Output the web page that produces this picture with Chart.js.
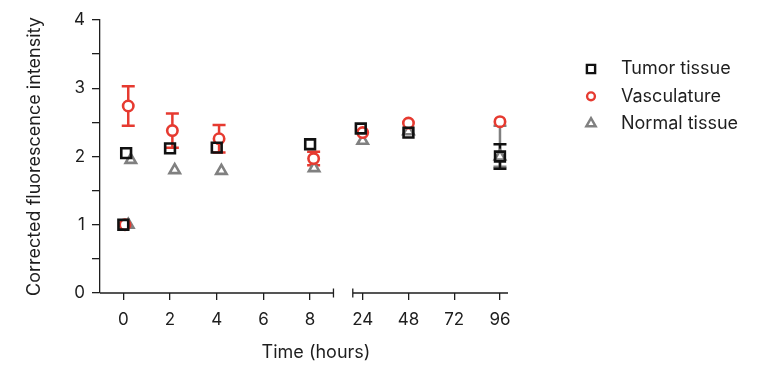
<!DOCTYPE html>
<html>
<head>
<meta charset="utf-8">
<script src="https://cdn.jsdelivr.net/npm/chart.js@4.4.1/dist/chart.umd.min.js"></script>
<style>
  body { margin: 0; background: #fff; }
</style>
</head>
<body>
<canvas id="chart" width="762" height="366"></canvas>
<script>
// tick positions on the time axis (hours)
const tickHours = [0, 2, 4, 6, 8, 24, 48, 72, 96];

const tumorHours  = [0, 0.12, 2, 4, 8, 23, 48, 96];
const tumorValues = [1.0, 2.05, 2.12, 2.13, 2.18, 2.41, 2.35, 2.0];
const tumorErr    = [0, 0, 0, 0, 0, 0, 0, 0.18];

const vascHours  = [0.07, 0.21, 2.1, 4.1, 8.15, 24, 48, 96];
const vascValues = [1.0, 2.74, 2.38, 2.26, 1.97, 2.35, 2.49, 2.51];
const vascErr    = [0, 0.29, 0.25, 0.2, 0.1, 0, 0, 0];

const normalHours   = [0.21, 0.32, 2.2, 4.2, 8.17, 24, 48, 96];
const normalValues  = [1.0, 1.95, 1.80, 1.79, 1.83, 2.23, 2.37, 2.0];
const normalErrUp   = [0, 0, 0, 0, 0, 0, 0, 0.45];
const normalErrDown = [0, 0, 0, 0, 0, 0, 0, 0.15];

const FONT = "Inter, 'Noto Sans', sans-serif";
const INK = "#1e1e1e";

// the axis is split: 0-8 h spaced by 2 h, then 24-96 h spaced by 24 h
function slotOf(h) {
    return h <= 12 ? h / 2 : 5.126 + (h - 24) / 24 * 0.98;
}

function points(hours, values) {
    return hours.map((h, i) => ({ x: slotOf(h), y: values[i] }));
}

// error bars, drawn under all markers
const errorBars = {
    id: "errorBars",
    beforeDatasetsDraw(chart) {
        const ctx = chart.ctx;
        const y = chart.scales.y;
        [2, 1, 0].forEach(di => {
            const ds = chart.data.datasets[di];
            const meta = chart.getDatasetMeta(di);
            ctx.save();
            ctx.strokeStyle = ds.borderColor;
            ctx.lineWidth = 2.5;
            meta.data.forEach((pt, j) => {
                const up = ds.errUp[j], down = ds.errDown[j];
                if (!up && !down) return;
                const v = ds.data[j].y;
                const yTop = y.getPixelForValue(v + up);
                const yBot = y.getPixelForValue(v - down);
                ctx.beginPath();
                ctx.moveTo(pt.x, yTop); ctx.lineTo(pt.x, yBot);
                if (up) { ctx.moveTo(pt.x - 6.5, yTop); ctx.lineTo(pt.x + 6.5, yTop); }
                if (down) { ctx.moveTo(pt.x - 6.5, yBot); ctx.lineTo(pt.x + 6.5, yBot); }
                ctx.stroke();
            });
            ctx.restore();
        });
    }
};

// x axis line with a break between 8 h and 24 h
const brokenAxis = {
    id: "brokenAxis",
    afterDraw(chart) {
        const ctx = chart.ctx;
        const x = chart.scales.x;
        const yb = chart.chartArea.bottom;
        const a0 = x.getPixelForValue(-0.5), a1 = x.getPixelForValue(4.5);
        const b0 = x.getPixelForValue(4.914), b1 = x.getPixelForValue(8.238);
        ctx.save();
        ctx.strokeStyle = INK;
        ctx.lineWidth = 1.3;
        ctx.beginPath();
        ctx.moveTo(a0, yb); ctx.lineTo(a1, yb);
        ctx.moveTo(a1, yb - 4.5); ctx.lineTo(a1, yb + 4.5);
        ctx.moveTo(b0, yb - 4.5); ctx.lineTo(b0, yb + 4.5);
        ctx.moveTo(b0, yb); ctx.lineTo(b1, yb);
        ctx.stroke();
        ctx.restore();
    }
};

// legend on the right
const sideLegend = {
    id: "sideLegend",
    afterDraw(chart) {
        const ctx = chart.ctx;
        const sizes = [5.8, 3.9, 5.4];
        ctx.save();
        chart.data.datasets.forEach((ds, i) => {
            const cx = 591, cy = 69 + 27.3 * i, r = sizes[i];
            ctx.strokeStyle = ds.borderColor;
            ctx.fillStyle = "#fff";
            ctx.lineWidth = 2.4;
            ctx.beginPath();
            if (ds.pointStyle === "rect") {
                const s = r * Math.SQRT1_2;
                ctx.rect(cx - s, cy - s, 2 * s, 2 * s);
            } else if (ds.pointStyle === "circle") {
                ctx.arc(cx, cy, r, 0, Math.PI * 2);
            } else {
                ctx.moveTo(cx, cy - r);
                ctx.lineTo(cx + r * 0.866, cy + r / 2);
                ctx.lineTo(cx - r * 0.866, cy + r / 2);
                ctx.closePath();
            }
            ctx.fill();
            ctx.stroke();
            ctx.fillStyle = INK;
            ctx.font = "18px " + FONT;
            ctx.textBaseline = "middle";
            ctx.fillText(ds.label, 621, cy);
        });
        ctx.restore();
    }
};

new Chart(document.getElementById("chart"), {
    type: "scatter",
    data: {
        datasets: [
            {
                label: "Tumor tissue",
                data: points(tumorHours, tumorValues),
                errUp: tumorErr, errDown: tumorErr,
                pointStyle: "rect", pointRadius: 6.9, pointBorderWidth: 2.6,
                borderColor: "#111111", backgroundColor: "rgba(255,255,255,0)"
            },
            {
                label: "Vasculature",
                data: points(vascHours, vascValues),
                errUp: vascErr, errDown: vascErr,
                pointStyle: "circle", pointRadius: 5.2, pointBorderWidth: 2.6,
                borderColor: "#e63a30", backgroundColor: "#ffffff"
            },
            {
                label: "Normal tissue",
                data: points(normalHours, normalValues),
                errUp: normalErrUp, errDown: normalErrDown,
                pointStyle: "triangle", pointRadius: 6, pointBorderWidth: 2.6,
                borderColor: "#808080", backgroundColor: "#ffffff"
            }
        ]
    },
    options: {
        responsive: false,
        animation: false,
        layout: { padding: { left: 0, right: 230, top: 20, bottom: 0 } },
        plugins: {
            legend: { display: false },
            tooltip: { enabled: false }
        },
        scales: {
            x: {
                type: "linear",
                min: -0.5,
                max: 8.752,
                afterFit(scale) { scale.height = 73; },
                afterBuildTicks(scale) {
                    scale.ticks = tickHours.map(h => ({ value: slotOf(h) }));
                },
                ticks: {
                    autoSkip: false,
                    maxRotation: 0,
                    padding: 9.5,
                    color: INK,
                    font: { family: FONT, size: 17 },
                    callback: (v, i) => tickHours[i]
                },
                grid: {
                    drawOnChartArea: false,
                    tickLength: 7,
                    color: INK,
                    lineWidth: 1.3
                },
                border: { display: false },
                title: {
                    display: true,
                    text: "Time (hours)",
                    color: INK,
                    font: { family: FONT, size: 18 },
                    padding: { top: 0, bottom: 2.2 }
                }
            },
            y: {
                min: 0,
                max: 4,
                afterFit(scale) { scale.width = 100; },
                ticks: {
                    stepSize: 0.5,
                    padding: 7,
                    color: INK,
                    font: { family: FONT, size: 17 },
                    callback: v => Number.isInteger(v) ? v : ""
                },
                grid: {
                    drawOnChartArea: false,
                    tickLength: 8,
                    color: INK,
                    lineWidth: 1.3
                },
                border: { display: true, color: INK, width: 1.3 },
                title: {
                    display: true,
                    text: "Corrected fluorescence intensity",
                    color: INK,
                    font: { family: FONT, size: 18 },
                    padding: { top: 24.2, bottom: 0 }
                }
            }
        }
    },
    plugins: [errorBars, brokenAxis, sideLegend]
});
</script>
</body>
</html>
